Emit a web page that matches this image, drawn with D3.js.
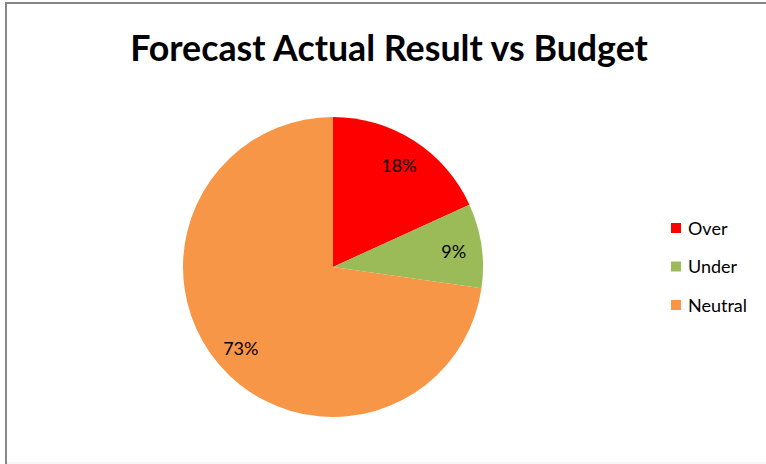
<!DOCTYPE html>
<html><head><meta charset="utf-8">
<script src="https://cdn.jsdelivr.net/npm/d3@7"></script>
<style>body{margin:0;background:#fff}svg{display:block}</style>
</head><body>
<script>
const categories = ["Over", "Under", "Neutral"];
const values = [2, 1, 8];
const colors = ["#FF0000", "#9BBB59", "#F79646"];
const title = "Forecast Actual Result vs Budget";

const W = 766, H = 464;
const svg = d3.select("body").append("svg").attr("width", W).attr("height", H);
svg.append("rect").attr("x", 0).attr("y", 0).attr("width", W).attr("height", H).attr("fill", "#fff");
// border
svg.append("line").attr("x1", 6).attr("x2", 6).attr("y1", 2).attr("y2", 464).attr("stroke", "#868686").attr("stroke-width", 2);
svg.append("line").attr("x1", 5).attr("x2", 766).attr("y1", 3).attr("y2", 3).attr("stroke", "#868686").attr("stroke-width", 2);
svg.append("line").attr("x1", 7).attr("x2", 766).attr("y1", 463).attr("y2", 463).attr("stroke", "#eeeeee").attr("stroke-width", 1);

const t = svg.append("text").attr("x", 389).attr("y", 61).attr("text-anchor", "middle")
  .attr("font-family", "Lato, 'Open Sans', sans-serif").attr("font-weight", "bold")
  .attr("font-size", 36).attr("fill", "#000").text(title);
const tw = t.node().getComputedTextLength();
t.attr("font-size", 36 * 518 / tw);

const cx = 333, cy = 267, r = 150;
const pie = d3.pie().sort(null).value(d => d.v);
const data = pie(categories.map((c, i) => ({c, v: values[i], col: colors[i]})));
const arc = d3.arc().innerRadius(0).outerRadius(r);
const labelArc = d3.arc().innerRadius(122).outerRadius(122);
const total = d3.sum(values);
const g = svg.append("g").attr("transform", `translate(${cx},${cy})`);
g.selectAll("path").data(data).join("path").attr("d", arc).attr("fill", d => d.data.col);
g.selectAll("text").data(data).join("text")
  .attr("transform", d => `translate(${labelArc.centroid(d)})`)
  .attr("text-anchor", "middle").attr("dy", "0.45em")
  .attr("font-family", "Lato, 'Open Sans', sans-serif").attr("font-size", 18).attr("fill", "#000")
  .text(d => Math.round(d.data.v / total * 100) + "%");

const leg = svg.append("g");
const ly = d3.scalePoint().domain(categories).range([228, 305]);
categories.forEach((c, i) => {
  leg.append("rect").attr("x", 671).attr("y", ly(c) - 5).attr("width", 10).attr("height", 10).attr("fill", colors[i]);
  leg.append("text").attr("x", 688).attr("y", ly(c)).attr("dy", "0.38em")
    .attr("font-family", "Lato, 'Open Sans', sans-serif").attr("font-size", 18).attr("fill", "#000").text(c);
});
</script>
</body></html>
